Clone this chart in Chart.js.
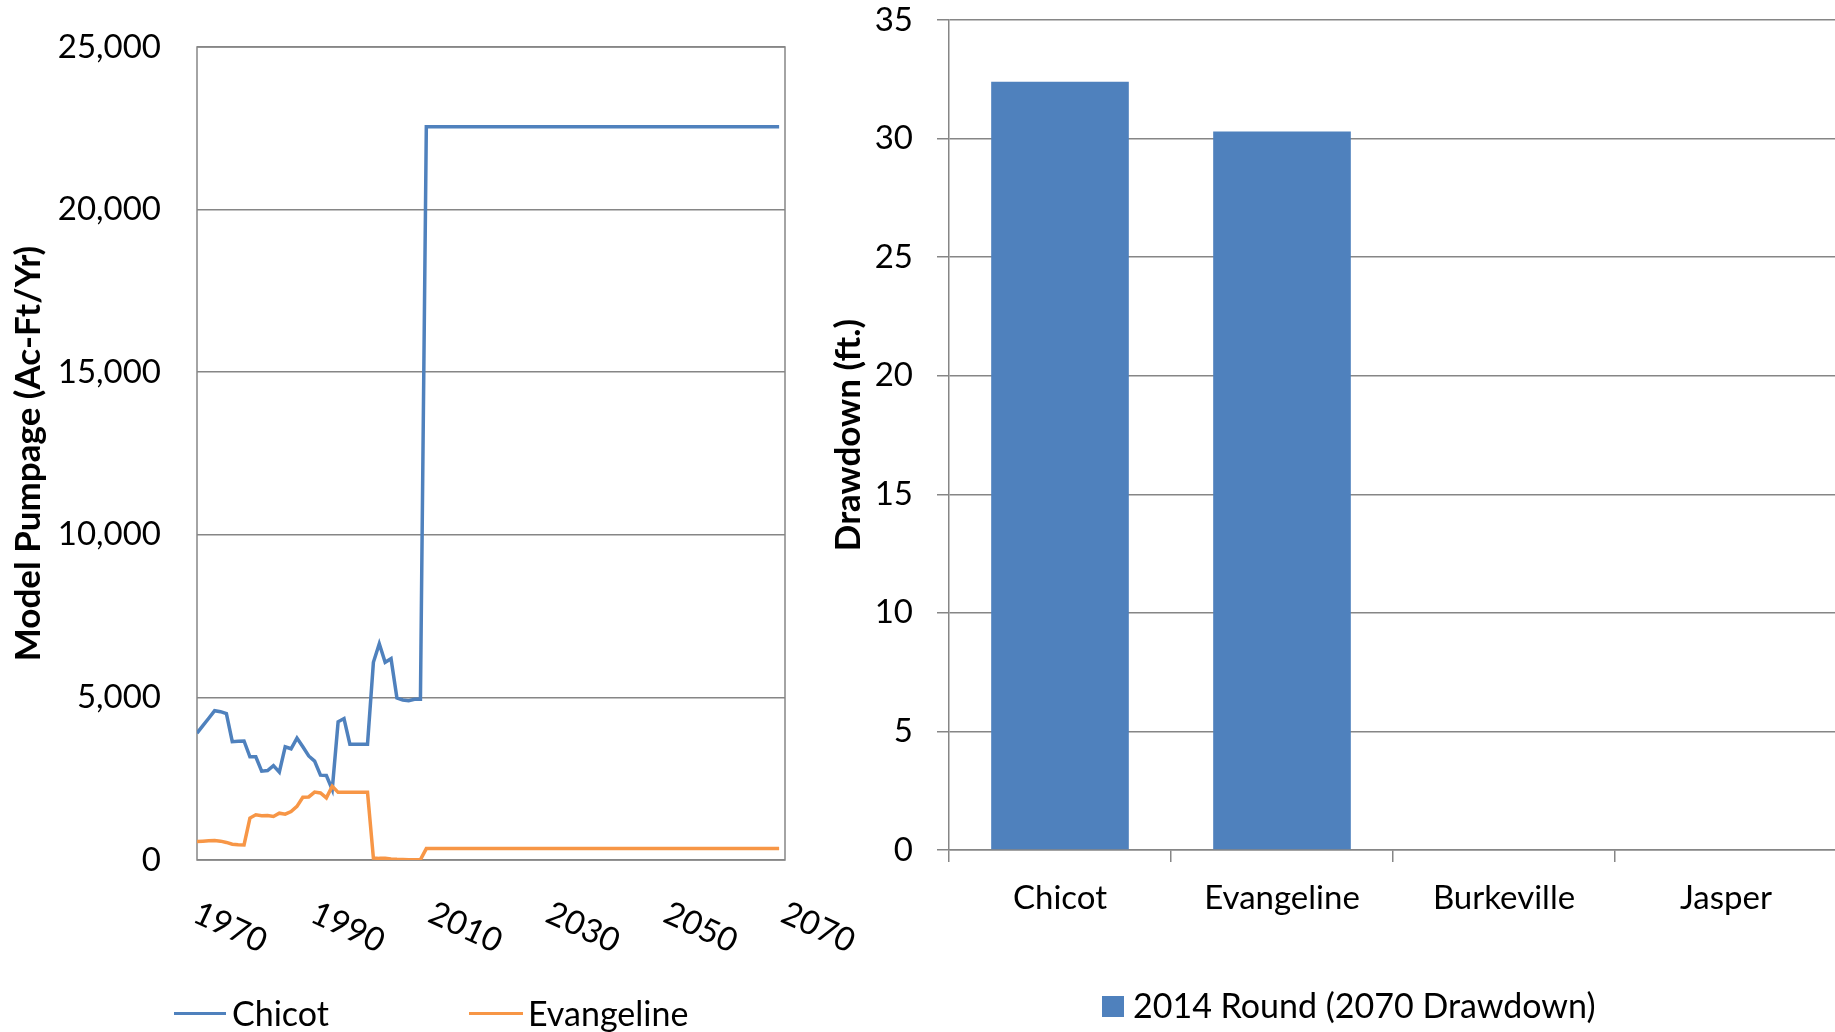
<!DOCTYPE html>
<html>
<head>
<meta charset="utf-8">
<script src="https://cdn.jsdelivr.net/npm/chart.js@4.4.1/dist/chart.umd.min.js"></script>
<style>
  html, body { margin: 0; padding: 0; background: #fff; overflow: hidden; }
  body { width: 1835px; height: 1032px; position: relative; font-family: Lato, sans-serif; }
  #leftWrap  { position: absolute; left: 0; top: 0; width: 900px; height: 1032px; }
  #rightWrap { position: absolute; left: 820px; top: 0; width: 1017px; height: 1032px; }
  .legText { position: absolute; font-size: 34px; line-height: 40px; color: #000; white-space: nowrap; }
  .swatch  { position: absolute; }
</style>
</head>
<body>
<div id="leftWrap"><canvas id="pumpChart"></canvas></div>
<div id="rightWrap"><canvas id="drawChart"></canvas></div>

<div class="swatch" id="swChicot" style="left:174px; top:1012px; width:52px; height:3px;"></div>
<div class="legText" style="left:232px; top:993px;">Chicot</div>
<div class="swatch" id="swEvang" style="left:469px; top:1012px; width:54px; height:3px;"></div>
<div class="legText" style="left:528px; top:993px;">Evangeline</div>

<div class="swatch" id="swRound" style="left:1102px; top:996px; width:22px; height:21px;"></div>
<div class="legText" style="left:1133px; top:985px;">2014 Round (2070 Drawdown)</div>

<script>
  // left chart: model pumpage by year (the flat part after 2009 is one segment)
  const years = [1970, 1971, 1972, 1973, 1974, 1975, 1976, 1977, 1978, 1979,
                 1980, 1981, 1982, 1983, 1984, 1985, 1986, 1987, 1988, 1989,
                 1990, 1991, 1992, 1993, 1994, 1995, 1996, 1997, 1998, 1999,
                 2000, 2001, 2002, 2003, 2004, 2005, 2006, 2007, 2008, 2009, 2069];
  const chicot = [3900, 4130, 4360, 4590, 4560, 4500, 3640, 3650, 3660, 3175,
                  3175, 2730, 2750, 2900, 2700, 3480, 3420, 3750, 3480, 3200,
                  3040, 2610, 2600, 2170, 4250, 4350, 3560, 3560, 3560, 3560,
                  6080, 6650, 6080, 6190, 4980, 4920, 4900, 4940, 4940, 22550, 22550];
  const evangeline = [570, 580, 590, 600, 580, 540, 485, 470, 465, 1290,
                      1390, 1360, 1370, 1340, 1440, 1410, 1490, 1650, 1930, 1940,
                      2090, 2060, 1910, 2270, 2080, 2080, 2080, 2080, 2080, 2080,
                      60, 50, 50, 30, 20, 15, 10, 10, 10, 350, 350];
  const yearTicks = [1970, 1990, 2010, 2030, 2050, 2070];

  // right chart: drawdown by aquifer
  const aquifers = ["Chicot", "Evangeline", "Burkeville", "Jasper"];
  const drawdown2070 = [32.4, 30.3, 0, 0];

  const BLUE = "#4F81BD";
  const ORANGE = "#F79646";
  const GRID = "#868686";
  const FONT = { family: "Lato", size: 33 };
  const TITLE_FONT = { family: "Lato", size: 35, weight: "bold" };

  document.getElementById("swChicot").style.background = BLUE;
  document.getElementById("swEvang").style.background = ORANGE;
  document.getElementById("swRound").style.background = BLUE;

  Chart.defaults.font.family = "Lato";
  Chart.defaults.color = "#000";

  const frameBox = {
    id: "frameBox",
    beforeDatasetsDraw(chart) {
      const { ctx, chartArea: a } = chart;
      ctx.save();
      ctx.strokeStyle = GRID;
      ctx.lineWidth = 1.5;
      ctx.strokeRect(a.left, a.top, a.right - a.left, a.bottom - a.top);
      ctx.restore();
    }
  };

  // excel style slanted year labels (rotated clockwise, starting at the tick)
  const slantYears = {
    id: "slantYears",
    afterDraw(chart) {
      const sx = chart.scales.x, ctx = chart.ctx;
      const y0 = chart.chartArea.bottom + 61;
      ctx.save();
      ctx.font = "33px Lato";
      ctx.fillStyle = "#000";
      ctx.textAlign = "left";
      ctx.textBaseline = "alphabetic";
      yearTicks.forEach(yr => {
        const x = sx.getPixelForValue(yr);
        ctx.save();
        ctx.translate(x - 6, y0);
        ctx.rotate(25 * Math.PI / 180);
        ctx.fillText(String(yr), 0, 0);
        ctx.restore();
      });
      ctx.restore();
    }
  };

  // fixed axis box, no extra room for half-height edge labels
  function fixY(w) {
    return s => { s.width = w; s.paddingTop = 0; s.paddingBottom = 0; };
  }

  new Chart(document.getElementById("pumpChart"), {
    type: "line",
    data: {
      datasets: [
        {
          label: "Chicot",
          data: years.map((yr, i) => ({ x: yr, y: chicot[i] })),
          borderColor: BLUE, borderWidth: 3.5, pointRadius: 0, tension: 0, order: 2
        },
        {
          label: "Evangeline",
          data: years.map((yr, i) => ({ x: yr, y: evangeline[i] })),
          borderColor: ORANGE, borderWidth: 3.5, pointRadius: 0, tension: 0, order: 1
        }
      ]
    },
    options: {
      responsive: true,
      maintainAspectRatio: false,
      animation: false,
      events: [],
      layout: { padding: { top: 47, right: 115, bottom: 172, left: 0 } },
      plugins: { legend: { display: false }, tooltip: { enabled: false } },
      scales: {
        x: {
          type: "linear", min: 1970, max: 2070,
          ticks: { display: false, stepSize: 20 },
          grid: { display: false },
          border: { display: false },
          afterFit: s => { s.height = 0; s.paddingLeft = 0; s.paddingRight = 0; }
        },
        y: {
          min: 0, max: 25000,
          ticks: { stepSize: 5000, padding: 36, font: FONT,
                   callback: v => Number(v).toLocaleString("en-US") },
          grid: { color: GRID, lineWidth: 1.5, drawTicks: false },
          border: { display: false },
          title: { display: true, text: "Model Pumpage (Ac-Ft/Yr)",
                   font: TITLE_FONT, padding: { top: 8, bottom: 0 } },
          afterFit: fixY(197)
        }
      }
    },
    plugins: [frameBox, slantYears]
  });

  new Chart(document.getElementById("drawChart"), {
    type: "bar",
    data: {
      labels: aquifers,
      datasets: [{
        label: "2014 Round (2070 Drawdown)",
        data: drawdown2070,
        backgroundColor: BLUE,
        borderWidth: 0,
        barPercentage: 0.62,
        categoryPercentage: 1.0
      }]
    },
    options: {
      responsive: true,
      maintainAspectRatio: false,
      animation: false,
      events: [],
      layout: { padding: { top: 20, right: 0, bottom: 0, left: 0 } },
      plugins: { legend: { display: false }, tooltip: { enabled: false } },
      scales: {
        x: {
          ticks: { font: FONT, padding: 17 },
          grid: { drawOnChartArea: false, drawTicks: true, tickLength: 12,
                  color: GRID, lineWidth: 1.5, offset: true },
          border: { display: true, color: GRID, width: 1.5 },
          afterFit: s => { s.height = 182; s.paddingLeft = 0; s.paddingRight = 0; }
        },
        y: {
          min: 0, max: 35,
          ticks: { stepSize: 5, padding: 24, font: FONT },
          grid: { color: GRID, lineWidth: 1.5, tickLength: 12 },
          border: { display: true, color: GRID, width: 1.5 },
          title: { display: true, text: "Drawdown (ft.)",
                   font: TITLE_FONT, padding: { top: 8, bottom: 0 } },
          afterFit: fixY(129)
        }
      }
    }
  });
</script>
</body>
</html>
